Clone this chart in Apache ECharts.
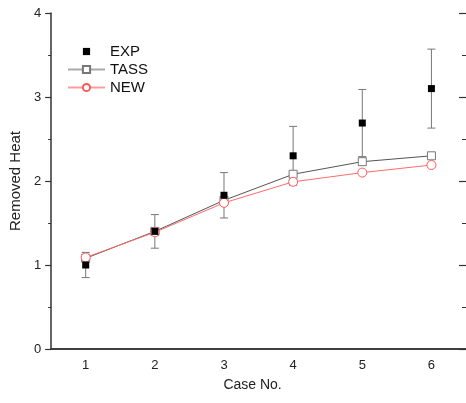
<!DOCTYPE html>
<html>
<head>
<meta charset="utf-8">
<script src="https://cdn.jsdelivr.net/npm/echarts@6/dist/echarts.min.js"></script>
<style>
  html, body { margin: 0; padding: 0; background: #fff; }
  #chart { width: 466px; height: 403px; }
</style>
</head>
<body>
<div id="chart"></div>
<script>
// Case numbers on the horizontal axis
var cases = ['1', '2', '3', '4', '5', '6'];
// Measured removed heat and its uncertainty (half-width of the error bar)
var expValues = [1.00, 1.40, 1.83, 2.30, 2.69, 3.10];
var expErrors = [0.15, 0.20, 0.27, 0.35, 0.40, 0.47];
// Model predictions
var tassValues = [1.08, 1.40, 1.77, 2.08, 2.23, 2.30];
var newValues = [1.09, 1.39, 1.74, 1.99, 2.10, 2.19];

var errorData = expValues.map(function (v, i) {
  return [i, v - expErrors[i], v + expErrors[i]];
});

var font = 'Liberation Sans, Arial, sans-serif';
var axisColor = '#333';

var chart = echarts.init(document.getElementById('chart'), null, { renderer: 'canvas' });

chart.setOption({
  animation: false,
  backgroundColor: '#fff',
  // the frame runs slightly past the right edge of the canvas
  grid: { left: 49, width: 419, top: 13, bottom: 54, containLabel: false },
  legend: {
    orient: 'vertical',
    left: 62,
    top: 39,
    itemWidth: 37,
    itemHeight: 9,
    itemGap: 3,
    textStyle: { fontFamily: font, fontSize: 15, color: '#111' },
    data: [
      { name: 'EXP' },
      { name: 'TASS', lineStyle: { color: '#aaa' } },
      { name: 'NEW', lineStyle: { color: '#ff9c9c' } }
    ]
  },
  xAxis: [{
    type: 'category',
    data: cases,
    boundaryGap: true,
    position: 'bottom',
    name: 'Case No.',
    nameLocation: 'middle',
    nameGap: 29,
    nameTextStyle: { fontFamily: font, fontSize: 14, color: '#222', padding: [0, 12, 0, 0] },
    axisLine: { lineStyle: { color: axisColor, width: 1.5 } },
    axisTick: { alignWithLabel: true, inside: false, length: 5, lineStyle: { color: axisColor, width: 1.2 } },
    axisLabel: { fontFamily: font, fontSize: 13, color: '#222', margin: 10 },
    splitLine: { show: false }
  }, {
    type: 'category',
    data: cases,
    boundaryGap: true,
    position: 'top',
    axisLine: { lineStyle: { color: axisColor, width: 1.5 } },
    axisTick: { alignWithLabel: true, inside: true, length: 5, lineStyle: { color: axisColor, width: 1.2 } },
    axisLabel: { show: false },
    splitLine: { show: false }
  }],
  yAxis: [{
    type: 'value',
    min: 0,
    max: 4,
    interval: 1,
    position: 'left',
    name: 'Removed Heat',
    nameLocation: 'middle',
    nameGap: 22,
    nameTextStyle: { fontFamily: font, fontSize: 15, color: '#222' },
    axisLine: { show: true, lineStyle: { color: axisColor, width: 1.5 } },
    axisTick: { show: true, inside: false, length: 6, lineStyle: { color: axisColor, width: 1.2 } },
    minorTick: { show: true, splitNumber: 2, length: 3, lineStyle: { color: axisColor, width: 1 } },
    axisLabel: { fontFamily: font, fontSize: 13, color: '#222', margin: 10 },
    splitLine: { show: false }
  }, {
    type: 'value',
    min: 0,
    max: 4,
    interval: 1,
    position: 'right',
    axisLine: { show: false },
    axisTick: { show: true, inside: true, length: 7, lineStyle: { color: axisColor, width: 1.2 } },
    minorTick: { show: true, splitNumber: 2, length: 4, lineStyle: { color: axisColor, width: 1 } },
    axisLabel: { show: false },
    splitLine: { show: false }
  }],
  series: [{
    // error bars for the measurements
    type: 'custom',
    name: 'EXP error',
    xAxisIndex: 0,
    yAxisIndex: 0,
    z: 1,
    data: errorData,
    renderItem: function (params, api) {
      var x = api.value(0);
      var lo = api.coord([x, api.value(1)]);
      var hi = api.coord([x, api.value(2)]);
      var cap = 4;
      var style = { stroke: '#777', lineWidth: 1 };
      return {
        type: 'group',
        children: [
          { type: 'line', shape: { x1: lo[0], y1: lo[1], x2: hi[0], y2: hi[1] }, style: style },
          { type: 'line', shape: { x1: lo[0] - cap, y1: lo[1], x2: lo[0] + cap, y2: lo[1] }, style: style },
          { type: 'line', shape: { x1: hi[0] - cap, y1: hi[1], x2: hi[0] + cap, y2: hi[1] }, style: style }
        ]
      };
    }
  }, {
    name: 'TASS',
    type: 'line',
    data: tassValues,
    z: 3,
    symbol: 'rect',
    symbolSize: 8,
    lineStyle: { color: '#555', width: 1 },
    itemStyle: { color: '#fff', borderColor: '#777', borderWidth: 1 }
  }, {
    name: 'NEW',
    type: 'line',
    data: newValues,
    z: 4,
    symbol: 'circle',
    symbolSize: 9,
    lineStyle: { color: '#ff6b6b', width: 1 },
    itemStyle: { color: '#fff', borderColor: '#ff5a5a', borderWidth: 1 }
  }, {
    name: 'EXP',
    type: 'line',
    data: expValues,
    z: 5,
    symbol: 'rect',
    symbolSize: 7,
    lineStyle: { width: 0 },
    itemStyle: { color: '#000' }
  }]
});
</script>
</body>
</html>
